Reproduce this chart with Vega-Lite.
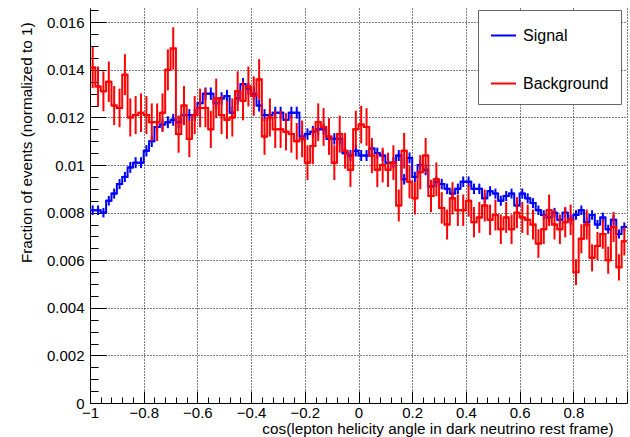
{
"$schema":"https://vega.github.io/schema/vega-lite/v6.json",
"width":537,"height":395,
"autosize":{"type":"none"},
"padding":{"left":90,"top":8,"right":3,"bottom":34},
"background":"white",
"config":{"view":{"stroke":null},"font":"Liberation Sans"},
"data":{"values":[
{"lo":-1,"x":-0.99,"hi":-0.98,"s":0.0081,"se":0.0002,"b":0.0141,"be":0.00087},
{"lo":-0.98,"x":-0.97,"hi":-0.96,"s":0.0081,"se":0.0002,"b":0.0133,"be":0.00084},
{"lo":-0.96,"x":-0.95,"hi":-0.94,"s":0.0080,"se":0.0002,"b":0.0131,"be":0.00084},
{"lo":-0.94,"x":-0.93,"hi":-0.92,"s":0.0085,"se":0.0002,"b":0.0135,"be":0.00085},
{"lo":-0.92,"x":-0.91,"hi":-0.90,"s":0.0088,"se":0.00021,"b":0.0125,"be":0.00082},
{"lo":-0.90,"x":-0.89,"hi":-0.88,"s":0.0092,"se":0.00021,"b":0.0124,"be":0.00081},
{"lo":-0.88,"x":-0.87,"hi":-0.86,"s":0.0095,"se":0.00021,"b":0.0138,"be":0.00086},
{"lo":-0.86,"x":-0.85,"hi":-0.84,"s":0.0099,"se":0.00023,"b":0.0120,"be":0.0008},
{"lo":-0.84,"x":-0.83,"hi":-0.82,"s":0.0101,"se":0.00023,"b":0.0121,"be":0.0008},
{"lo":-0.82,"x":-0.81,"hi":-0.80,"s":0.0101,"se":0.00023,"b":0.0122,"be":0.00081},
{"lo":-0.80,"x":-0.79,"hi":-0.78,"s":0.0106,"se":0.00024,"b":0.0121,"be":0.0008},
{"lo":-0.78,"x":-0.77,"hi":-0.76,"s":0.0110,"se":0.00024,"b":0.0118,"be":0.00079},
{"lo":-0.76,"x":-0.75,"hi":-0.74,"s":0.0116,"se":0.00025,"b":0.0118,"be":0.00079},
{"lo":-0.74,"x":-0.73,"hi":-0.72,"s":0.0117,"se":0.00025,"b":0.0122,"be":0.00081},
{"lo":-0.72,"x":-0.71,"hi":-0.70,"s":0.0118,"se":0.00025,"b":0.0140,"be":0.00086},
{"lo":-0.70,"x":-0.69,"hi":-0.68,"s":0.0119,"se":0.00025,"b":0.0149,"be":0.00089},
{"lo":-0.68,"x":-0.67,"hi":-0.66,"s":0.0118,"se":0.00025,"b":0.0113,"be":0.00078},
{"lo":-0.66,"x":-0.65,"hi":-0.64,"s":0.0121,"se":0.00025,"b":0.0125,"be":0.00082},
{"lo":-0.64,"x":-0.63,"hi":-0.62,"s":0.0121,"se":0.00025,"b":0.0111,"be":0.00077},
{"lo":-0.62,"x":-0.61,"hi":-0.60,"s":0.0121,"se":0.00025,"b":0.0121,"be":0.0008},
{"lo":-0.60,"x":-0.59,"hi":-0.58,"s":0.0126,"se":0.00026,"b":0.0124,"be":0.00081},
{"lo":-0.58,"x":-0.57,"hi":-0.56,"s":0.0130,"se":0.00026,"b":0.0124,"be":0.00081},
{"lo":-0.56,"x":-0.55,"hi":-0.54,"s":0.0130,"se":0.00026,"b":0.0115,"be":0.00078},
{"lo":-0.54,"x":-0.53,"hi":-0.52,"s":0.0126,"se":0.00026,"b":0.0128,"be":0.00083},
{"lo":-0.52,"x":-0.51,"hi":-0.50,"s":0.0128,"se":0.00026,"b":0.0121,"be":0.0008},
{"lo":-0.50,"x":-0.49,"hi":-0.48,"s":0.0129,"se":0.00026,"b":0.0119,"be":0.0008},
{"lo":-0.48,"x":-0.47,"hi":-0.46,"s":0.0122,"se":0.00025,"b":0.0120,"be":0.0008},
{"lo":-0.46,"x":-0.45,"hi":-0.44,"s":0.0128,"se":0.00026,"b":0.0131,"be":0.00084},
{"lo":-0.44,"x":-0.43,"hi":-0.42,"s":0.0134,"se":0.00026,"b":0.0127,"be":0.00082},
{"lo":-0.42,"x":-0.41,"hi":-0.40,"s":0.0132,"se":0.00026,"b":0.0133,"be":0.00084},
{"lo":-0.40,"x":-0.39,"hi":-0.38,"s":0.0130,"se":0.00026,"b":0.0129,"be":0.00083},
{"lo":-0.38,"x":-0.37,"hi":-0.36,"s":0.0125,"se":0.00025,"b":0.0136,"be":0.00085},
{"lo":-0.36,"x":-0.35,"hi":-0.34,"s":0.0121,"se":0.00025,"b":0.0112,"be":0.00077},
{"lo":-0.34,"x":-0.33,"hi":-0.32,"s":0.0121,"se":0.00025,"b":0.0120,"be":0.0008},
{"lo":-0.32,"x":-0.31,"hi":-0.30,"s":0.0122,"se":0.00025,"b":0.0115,"be":0.00078},
{"lo":-0.30,"x":-0.29,"hi":-0.28,"s":0.0122,"se":0.00025,"b":0.0115,"be":0.00078},
{"lo":-0.28,"x":-0.27,"hi":-0.26,"s":0.0119,"se":0.00025,"b":0.0114,"be":0.00078},
{"lo":-0.26,"x":-0.25,"hi":-0.24,"s":0.0122,"se":0.00025,"b":0.0113,"be":0.00078},
{"lo":-0.24,"x":-0.23,"hi":-0.22,"s":0.0122,"se":0.00025,"b":0.0110,"be":0.00077},
{"lo":-0.22,"x":-0.21,"hi":-0.20,"s":0.0112,"se":0.00024,"b":0.0111,"be":0.00077},
{"lo":-0.20,"x":-0.19,"hi":-0.18,"s":0.0113,"se":0.00024,"b":0.0101,"be":0.00073},
{"lo":-0.18,"x":-0.17,"hi":-0.16,"s":0.0114,"se":0.00024,"b":0.0108,"be":0.00076},
{"lo":-0.16,"x":-0.15,"hi":-0.14,"s":0.0115,"se":0.00024,"b":0.0118,"be":0.00079},
{"lo":-0.14,"x":-0.13,"hi":-0.12,"s":0.0115,"se":0.00024,"b":0.0116,"be":0.00079},
{"lo":-0.12,"x":-0.11,"hi":-0.10,"s":0.0111,"se":0.00024,"b":0.0112,"be":0.00077},
{"lo":-0.10,"x":-0.09,"hi":-0.08,"s":0.0111,"se":0.00024,"b":0.0101,"be":0.00073},
{"lo":-0.08,"x":-0.07,"hi":-0.06,"s":0.0111,"se":0.00024,"b":0.0113,"be":0.00078},
{"lo":-0.06,"x":-0.05,"hi":-0.04,"s":0.0105,"se":0.00023,"b":0.0106,"be":0.00075},
{"lo":-0.04,"x":-0.03,"hi":-0.02,"s":0.0104,"se":0.00023,"b":0.0098,"be":0.00072},
{"lo":-0.02,"x":-0.01,"hi":0,"s":0.0106,"se":0.00024,"b":0.0115,"be":0.00078},
{"lo":0,"x":0.01,"hi":0.02,"s":0.0104,"se":0.00023,"b":0.0117,"be":0.00079},
{"lo":0.02,"x":0.03,"hi":0.04,"s":0.0104,"se":0.00023,"b":0.0116,"be":0.00079},
{"lo":0.04,"x":0.05,"hi":0.06,"s":0.0107,"se":0.00024,"b":0.0104,"be":0.00074},
{"lo":0.06,"x":0.07,"hi":0.08,"s":0.0105,"se":0.00023,"b":0.0098,"be":0.00072},
{"lo":0.08,"x":0.09,"hi":0.10,"s":0.0104,"se":0.00023,"b":0.0100,"be":0.00073},
{"lo":0.10,"x":0.11,"hi":0.12,"s":0.0101,"se":0.00023,"b":0.0098,"be":0.00072},
{"lo":0.12,"x":0.13,"hi":0.14,"s":0.0101,"se":0.00023,"b":0.0101,"be":0.00073},
{"lo":0.14,"x":0.15,"hi":0.16,"s":0.0104,"se":0.00023,"b":0.0083,"be":0.00067},
{"lo":0.16,"x":0.17,"hi":0.18,"s":0.0094,"se":0.00022,"b":0.0106,"be":0.00075},
{"lo":0.18,"x":0.19,"hi":0.20,"s":0.0103,"se":0.00023,"b":0.0093,"be":0.0007},
{"lo":0.20,"x":0.21,"hi":0.22,"s":0.0095,"se":0.00022,"b":0.0086,"be":0.00068},
{"lo":0.22,"x":0.23,"hi":0.24,"s":0.0100,"se":0.00023,"b":0.0097,"be":0.00072},
{"lo":0.24,"x":0.25,"hi":0.26,"s":0.0098,"se":0.00023,"b":0.0104,"be":0.00074},
{"lo":0.26,"x":0.27,"hi":0.28,"s":0.0091,"se":0.00022,"b":0.0087,"be":0.00068},
{"lo":0.28,"x":0.29,"hi":0.30,"s":0.0093,"se":0.00022,"b":0.0094,"be":0.00071},
{"lo":0.30,"x":0.31,"hi":0.32,"s":0.0092,"se":0.00022,"b":0.0082,"be":0.00066},
{"lo":0.32,"x":0.33,"hi":0.34,"s":0.0090,"se":0.00022,"b":0.0075,"be":0.00063},
{"lo":0.34,"x":0.35,"hi":0.36,"s":0.0088,"se":0.00021,"b":0.0086,"be":0.00068},
{"lo":0.36,"x":0.37,"hi":0.38,"s":0.0090,"se":0.00022,"b":0.0081,"be":0.00066},
{"lo":0.38,"x":0.39,"hi":0.40,"s":0.0093,"se":0.00022,"b":0.0081,"be":0.00066},
{"lo":0.40,"x":0.41,"hi":0.42,"s":0.0093,"se":0.00022,"b":0.0085,"be":0.00067},
{"lo":0.42,"x":0.43,"hi":0.44,"s":0.0090,"se":0.00022,"b":0.0076,"be":0.00064},
{"lo":0.44,"x":0.45,"hi":0.46,"s":0.0090,"se":0.00022,"b":0.0078,"be":0.00065},
{"lo":0.46,"x":0.47,"hi":0.48,"s":0.0086,"se":0.00021,"b":0.0083,"be":0.00067},
{"lo":0.48,"x":0.49,"hi":0.50,"s":0.0089,"se":0.00021,"b":0.0077,"be":0.00064},
{"lo":0.50,"x":0.51,"hi":0.52,"s":0.0088,"se":0.00021,"b":0.0079,"be":0.00065},
{"lo":0.52,"x":0.53,"hi":0.54,"s":0.0085,"se":0.00021,"b":0.0073,"be":0.00062},
{"lo":0.54,"x":0.55,"hi":0.56,"s":0.0087,"se":0.00021,"b":0.0078,"be":0.00065},
{"lo":0.56,"x":0.57,"hi":0.58,"s":0.0088,"se":0.00021,"b":0.0073,"be":0.00062},
{"lo":0.58,"x":0.59,"hi":0.60,"s":0.0083,"se":0.0002,"b":0.0080,"be":0.00065},
{"lo":0.60,"x":0.61,"hi":0.62,"s":0.0088,"se":0.00021,"b":0.0078,"be":0.00065},
{"lo":0.62,"x":0.63,"hi":0.64,"s":0.0086,"se":0.00021,"b":0.0077,"be":0.00064},
{"lo":0.64,"x":0.65,"hi":0.66,"s":0.0084,"se":0.00021,"b":0.0075,"be":0.00063},
{"lo":0.66,"x":0.67,"hi":0.68,"s":0.0081,"se":0.0002,"b":0.0067,"be":0.0006},
{"lo":0.68,"x":0.69,"hi":0.70,"s":0.0079,"se":0.0002,"b":0.0073,"be":0.00062},
{"lo":0.70,"x":0.71,"hi":0.72,"s":0.0078,"se":0.0002,"b":0.0081,"be":0.00066},
{"lo":0.72,"x":0.73,"hi":0.74,"s":0.0080,"se":0.0002,"b":0.0075,"be":0.00063},
{"lo":0.74,"x":0.75,"hi":0.76,"s":0.0077,"se":0.0002,"b":0.0073,"be":0.00062},
{"lo":0.76,"x":0.77,"hi":0.78,"s":0.0080,"se":0.0002,"b":0.0076,"be":0.00064},
{"lo":0.78,"x":0.79,"hi":0.80,"s":0.0077,"se":0.0002,"b":0.0077,"be":0.00064},
{"lo":0.80,"x":0.81,"hi":0.82,"s":0.0079,"se":0.0002,"b":0.0055,"be":0.00054},
{"lo":0.82,"x":0.83,"hi":0.84,"s":0.0081,"se":0.0002,"b":0.0069,"be":0.00061},
{"lo":0.84,"x":0.85,"hi":0.86,"s":0.0076,"se":0.0002,"b":0.0075,"be":0.00063},
{"lo":0.86,"x":0.87,"hi":0.88,"s":0.0079,"se":0.0002,"b":0.0061,"be":0.00057},
{"lo":0.88,"x":0.89,"hi":0.90,"s":0.0075,"se":0.00019,"b":0.0066,"be":0.00059},
{"lo":0.90,"x":0.91,"hi":0.92,"s":0.0078,"se":0.0002,"b":0.0071,"be":0.00062},
{"lo":0.92,"x":0.93,"hi":0.94,"s":0.0073,"se":0.00019,"b":0.0060,"be":0.00057},
{"lo":0.94,"x":0.95,"hi":0.96,"s":0.0077,"se":0.0002,"b":0.0074,"be":0.00063},
{"lo":0.96,"x":0.97,"hi":0.98,"s":0.0071,"se":0.00019,"b":0.0057,"be":0.00055},
{"lo":0.98,"x":0.99,"hi":1,"s":0.0074,"se":0.00019,"b":0.0068,"be":0.0006}
]},
"resolve":{"axis":{"x":"independent","y":"independent"}},
"layer":[
{"mark":{"type":"point","opacity":0},
 "encoding":{
  "x":{"field":"x","type":"quantitative","scale":{"domain":[-1,1],"nice":false,"zero":false},
   "axis":{"orient":"bottom","values":[-0.96,-0.92,-0.88,-0.84,-0.76,-0.72,-0.68,-0.64,-0.56,-0.52,-0.48,-0.44,-0.36,-0.32,-0.28,-0.24,-0.16,-0.12,-0.08,-0.04,0.04,0.08,0.12,0.16,0.24,0.28,0.32,0.36,0.44,0.48,0.52,0.56,0.64,0.68,0.72,0.76,0.84,0.88,0.92,0.96],"labels":false,"grid":false,"domain":false,"tickSize":-6,"tickColor":"#000","tickWidth":1,"title":null}},
  "y":{"field":"s","type":"quantitative","scale":{"domain":[0,0.0166],"nice":false,"zero":true},
   "axis":{"orient":"left","values":[0.0005,0.001,0.0015,0.0025,0.003,0.0035,0.0045,0.005,0.0055,0.0065,0.007,0.0075,0.0085,0.009,0.0095,0.0105,0.011,0.0115,0.0125,0.013,0.0135,0.0145,0.015,0.0155,0.0165],"labels":false,"grid":false,"domain":false,"tickSize":-8,"tickColor":"#000","tickWidth":1,"title":null}}
 }},
{"mark":{"type":"line","interpolate":"step","strokeWidth":2},
 "encoding":{
  "x":{"field":"x","type":"quantitative",
   "axis":{"orient":"bottom","values":[-1,-0.8,-0.6,-0.4,-0.2,0,0.2,0.4,0.6,0.8,1],"format":"~g","labelExpr":"datum.value == 1 ? '' : datum.label","labelFlush":false,"labelOverlap":false,"grid":true,"gridDash":[1,2],"gridColor":"#000","gridWidth":1,"tickSize":-12,"tickColor":"#000","tickWidth":1,"domainColor":"#000","domainWidth":1,"labelPadding":14,"labelFontSize":15,"labelColor":"#000","labelFont":"Liberation Sans","title":"cos(lepton helicity angle in dark neutrino rest frame)","titleFont":"Liberation Sans","titleFontSize":15.3,"titleFontWeight":"normal","titleColor":"#000","titleAnchor":"end","titleAlign":"right","titleX":523,"titleY":30,"titleBaseline":"alphabetic"}},
  "y":{"field":"s","type":"quantitative",
   "axis":{"orient":"left","values":[0,0.002,0.004,0.006,0.008,0.01,0.012,0.014,0.016],"format":".3~f","labelFlush":false,"labelOverlap":false,"grid":true,"gridDash":[1,2],"gridColor":"#000","gridWidth":1,"tickSize":-16,"tickColor":"#000","tickWidth":1,"domainColor":"#000","domainWidth":1,"labelPadding":22,"labelFontSize":15,"labelColor":"#000","labelFont":"Liberation Sans","title":"Fraction of events (normalized to 1)","titleFont":"Liberation Sans","titleFontSize":15.3,"titleFontWeight":"normal","titleColor":"#000","titleAnchor":"end","titleAlign":"right","titleAngle":-90,"titleX":-64,"titleY":14,"titleBaseline":"middle"}},
  "color":{"datum":"Signal","type":"nominal","scale":{"domain":["Signal","Background"],"range":["#0000ff","#ff0000"]},
   "legend":{"orient":"none","legendX":388,"legendY":2,"title":null,"direction":"vertical","symbolType":"stroke","symbolStrokeWidth":2,"symbolSize":625,"labelFontSize":16,"labelFont":"Liberation Sans","labelColor":"#000","labelOffset":6,"rowPadding":26,"padding":12,"strokeColor":"#666","fillColor":"#fff"}}
 }},
{"mark":{"type":"rule","strokeWidth":2},
 "encoding":{"x":{"field":"lo","type":"quantitative","axis":null},"x2":{"field":"hi"},"y":{"field":"s","type":"quantitative","axis":null},"color":{"datum":"Signal","type":"nominal"}}},
{"mark":{"type":"errorbar","thickness":2},
 "encoding":{"x":{"field":"x","type":"quantitative","axis":null},"y":{"field":"s","type":"quantitative","axis":null},"yError":{"field":"se"},"color":{"datum":"Signal","type":"nominal"}}},
{"mark":{"type":"line","interpolate":"step","strokeWidth":2},
 "encoding":{"x":{"field":"x","type":"quantitative","axis":null},"y":{"field":"b","type":"quantitative","axis":null},"color":{"datum":"Background","type":"nominal"}}},
{"mark":{"type":"rule","strokeWidth":2},
 "encoding":{"x":{"field":"lo","type":"quantitative","axis":null},"x2":{"field":"hi"},"y":{"field":"b","type":"quantitative","axis":null},"color":{"datum":"Background","type":"nominal"}}},
{"mark":{"type":"errorbar","thickness":2},
 "encoding":{"x":{"field":"x","type":"quantitative","axis":null},"y":{"field":"b","type":"quantitative","axis":null},"yError":{"field":"be"},"color":{"datum":"Background","type":"nominal"}}}
]
}
